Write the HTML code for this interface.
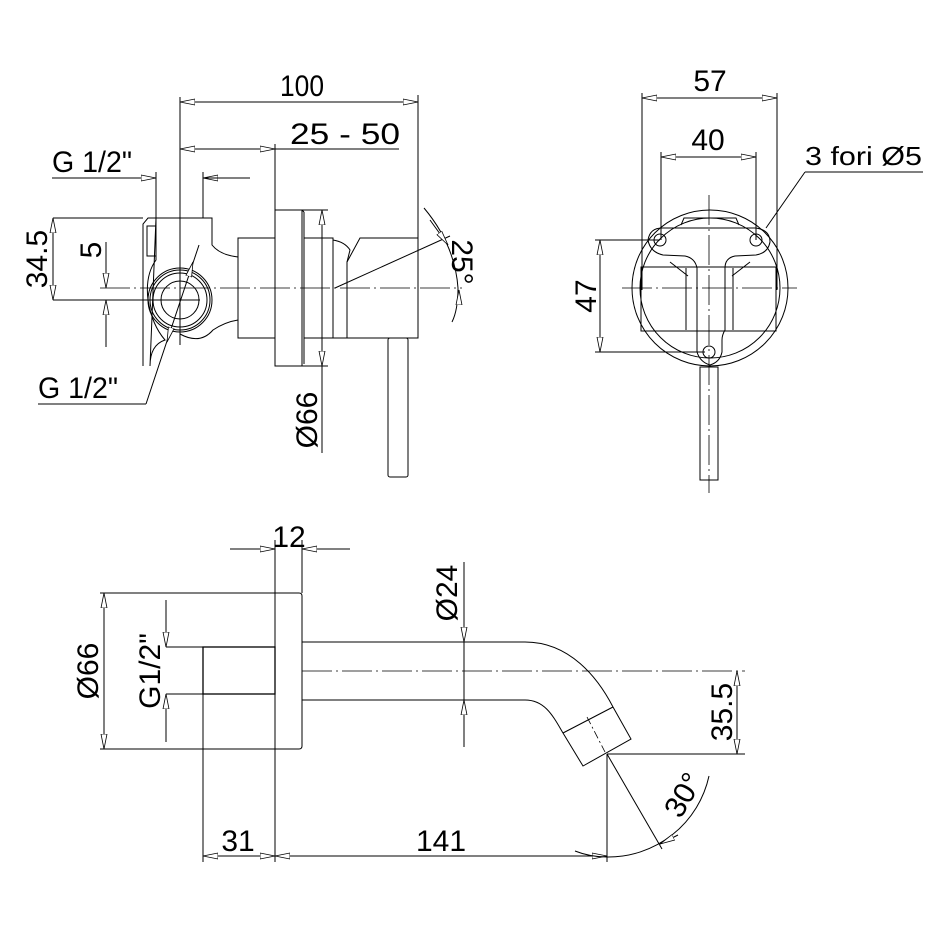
<!DOCTYPE html>
<html><head><meta charset="utf-8"><style>
html,body{margin:0;padding:0;background:#fff}
svg{display:block}
text{font-family:"Liberation Sans Narrow","Liberation Sans",sans-serif;fill:#000}
</style></head><body>
<svg width="942" height="942" viewBox="0 0 942 942" xmlns="http://www.w3.org/2000/svg">
<defs>
<marker id="a" viewBox="0 -4 16 8" refX="15" refY="0" markerWidth="16" markerHeight="8" markerUnits="userSpaceOnUse" orient="auto-start-reverse">
<path d="M15,0 L0,-3 L0,3 Z" fill="#fff" stroke="#000" stroke-width="0.8"/>
</marker>
</defs>
<g fill="none" stroke="#000" stroke-width="1">
<line x1="180" y1="97" x2="180" y2="345"/>
<line x1="418" y1="95" x2="418" y2="270"/>
<line x1="180" y1="102" x2="418" y2="102" marker-start="url(#a)" marker-end="url(#a)"/>
<line x1="275" y1="144" x2="275" y2="210"/>
<line x1="180" y1="149" x2="275" y2="149" marker-start="url(#a)" marker-end="url(#a)"/>
<line x1="275" y1="149" x2="399" y2="149"/>
<line x1="52" y1="178" x2="140" y2="178"/>
<line x1="130" y1="178" x2="156" y2="178" marker-end="url(#a)"/>
<line x1="228" y1="178" x2="203" y2="178" marker-end="url(#a)"/>
<line x1="203" y1="178" x2="250" y2="178"/>
<line x1="156" y1="172" x2="156" y2="218"/>
<line x1="203" y1="172" x2="203" y2="218"/>
<line x1="53" y1="218" x2="143" y2="218"/>
<line x1="53" y1="300" x2="200" y2="300"/>
<line x1="53" y1="218" x2="53" y2="300" marker-start="url(#a)" marker-end="url(#a)"/>
<line x1="106" y1="242" x2="106" y2="288" marker-end="url(#a)"/>
<line x1="106" y1="347" x2="106" y2="300" marker-end="url(#a)"/>
<line x1="100" y1="288" x2="462" y2="288" stroke-dasharray="30,4,2,4" stroke-width="0.8"/>
<path d="M143,366 L143,224 L148,218 L212,218 L212,245 Q220,255 238,257"/>
<path d="M156,218 L156,260 Q145,275 148,300 Q152,325 165,340 Q150,345 150,366 Z"/>
<rect x="147" y="226" width="9" height="30"/>
<path d="M238,320 Q225,322 213,330 Q200,345 180,334"/>
<circle cx="180" cy="300" r="32"/>
<circle cx="180" cy="300" r="30"/>
<circle cx="180" cy="300" r="27"/>
<circle cx="180" cy="300" r="19"/>
<rect x="238" y="238" width="37" height="100"/>
<rect x="275" y="210" width="27" height="156"/>
<line x1="302" y1="210" x2="304" y2="212"/><line x1="304" y1="212" x2="304" y2="364"/>
<rect x="304" y="238" width="29" height="100"/>
<path d="M333,240 Q345,242 350,250 L347,262 L347,338 L333,338"/>
<path d="M347,262 L360,238 L418,238 L418,338 L347,338"/>
<rect x="388" y="338" width="20" height="139" rx="2"/>
<line x1="302" y1="210" x2="328" y2="210"/>
<line x1="302" y1="366" x2="328" y2="366"/>
<line x1="322" y1="288" x2="322" y2="210" marker-end="url(#a)"/>
<line x1="322" y1="288" x2="322" y2="366" marker-end="url(#a)"/>
<line x1="322" y1="366" x2="322" y2="453"/>
<line x1="335" y1="288" x2="450" y2="236"/>
<path d="M424,208 Q455,245 458,288 Q458,310 452,322"/>
<line x1="430" y1="220" x2="448" y2="245" marker-end="url(#a)"/>
<line x1="459" y1="305" x2="459" y2="290" marker-end="url(#a)"/>
<line x1="38" y1="404" x2="146" y2="404"/>
<line x1="146" y1="404" x2="199" y2="245"/>
<line x1="193" y1="262" x2="190" y2="272" marker-start="url(#a)"/>
<line x1="170" y1="332" x2="167" y2="342" marker-end="url(#a)"/>

<line x1="642" y1="93" x2="642" y2="290"/>
<line x1="777" y1="93" x2="777" y2="290"/>
<line x1="642" y1="98" x2="777" y2="98" marker-start="url(#a)" marker-end="url(#a)"/>
<line x1="661" y1="152" x2="661" y2="240"/>
<line x1="756" y1="152" x2="756" y2="240"/>
<line x1="661" y1="157" x2="756" y2="157" marker-start="url(#a)" marker-end="url(#a)"/>
<line x1="805" y1="172" x2="923" y2="172"/>
<line x1="805" y1="172" x2="766" y2="228"/>
<circle cx="710" cy="288" r="78"/>
<circle cx="710" cy="288" r="70"/>
<rect x="641" y="267" width="135" height="64"/>
<path d="M681,225 L684,218 L736,218 L739,225"/>
<path d="M648,240 Q650,228 662,228 L756,228 Q770,230 770,242 Q768,253 756,255 L735,256 Q725,258 725,268 L725,330 Q722,335 722,340 L722,352 Q720,362 710,365 Q700,362 697,352 L697,268 Q695,258 685,256 L663,255 Q650,252 648,240 Z"/>
<path d="M686,268 L686,330 M733,268 L733,330"/>
<path d="M670,262 L688,276 M750,262 L732,276"/>
<circle cx="660" cy="240" r="6"/>
<circle cx="756" cy="240" r="6"/>
<circle cx="709" cy="352" r="6"/>
<rect x="700" y="367" width="18" height="113"/>
<line x1="709" y1="195" x2="709" y2="493" stroke-dasharray="30,4,2,4" stroke-width="0.8"/>
<line x1="622" y1="288" x2="797" y2="288" stroke-dasharray="30,4,2,4" stroke-width="0.8"/>
<line x1="595" y1="240" x2="660" y2="240"/>
<line x1="595" y1="352" x2="705" y2="352"/>
<line x1="600" y1="240" x2="600" y2="352" marker-start="url(#a)" marker-end="url(#a)"/>

<line x1="275" y1="540" x2="275" y2="862"/>
<line x1="302" y1="540" x2="302" y2="593"/>
<line x1="230" y1="549" x2="275" y2="549" marker-end="url(#a)"/>
<line x1="350" y1="549" x2="302" y2="549" marker-end="url(#a)"/>
<path d="M275,593 L299,593 Q302,593 302,596 L302,746 Q302,749 299,749 L275,749 Z"/>
<line x1="100" y1="593" x2="275" y2="593"/>
<line x1="100" y1="749" x2="275" y2="749"/>
<line x1="104" y1="593" x2="104" y2="749" marker-start="url(#a)" marker-end="url(#a)"/>
<line x1="166" y1="600" x2="166" y2="647" marker-end="url(#a)"/>
<line x1="166" y1="742" x2="166" y2="694" marker-end="url(#a)"/>
<line x1="166" y1="647" x2="203" y2="647"/>
<line x1="166" y1="694" x2="203" y2="694"/>
<rect x="203" y="647" width="72" height="47" stroke-width="1.3"/>
<line x1="203" y1="694" x2="203" y2="862"/>
<path d="M302,642 L525,642 C570,642 598,678 613,707 L631,739 L583,766 L563,733 C553,716 545,700 525,700 L302,700"/>
<line x1="563" y1="733" x2="613" y2="707"/>
<line x1="587" y1="717" x2="605" y2="752" stroke-dasharray="8,3,2,3" stroke-width="0.8"/>
<line x1="302" y1="671" x2="745" y2="671" stroke-dasharray="30,4,2,4" stroke-width="0.8"/>
<line x1="464" y1="562" x2="464" y2="642" marker-end="url(#a)"/>
<line x1="464" y1="747" x2="464" y2="700" marker-end="url(#a)"/>
<line x1="464" y1="642" x2="464" y2="700"/>
<line x1="607" y1="754" x2="745" y2="754"/>
<line x1="737" y1="671" x2="737" y2="754" marker-start="url(#a)" marker-end="url(#a)"/>
<line x1="203" y1="856" x2="275" y2="856" marker-start="url(#a)" marker-end="url(#a)"/>
<line x1="275" y1="856" x2="607" y2="856" marker-start="url(#a)" marker-end="url(#a)"/>
<line x1="607" y1="754" x2="607" y2="862"/>
<line x1="607" y1="754" x2="662" y2="849"/>
<path d="M575,851 Q590,857 607,857 A103,103 0 0 0 709,776"/>
<line x1="678" y1="835" x2="660" y2="844" marker-end="url(#a)"/>
</g>
<g font-size="30">
<text x="280" y="96" textLength="44" lengthAdjust="spacingAndGlyphs">100</text>
<text x="290" y="144" textLength="110" lengthAdjust="spacingAndGlyphs">25 - 50</text>
<text x="52" y="172" textLength="80" lengthAdjust="spacingAndGlyphs">G 1/2"</text>
<text x="38" y="398" textLength="80" lengthAdjust="spacingAndGlyphs">G 1/2"</text>
<text transform="translate(47,259) rotate(-90)" text-anchor="middle">34.5</text>
<text transform="translate(101,250) rotate(-90)" text-anchor="middle">5</text>
<text transform="translate(317,420) rotate(-90)" text-anchor="middle">Ø66</text>
<text transform="translate(452,262) rotate(90)" text-anchor="middle">25°</text>
<text x="710" y="91" text-anchor="middle">57</text>
<text x="708" y="150" text-anchor="middle">40</text>
<text x="805" y="165" font-size="26" textLength="117" lengthAdjust="spacingAndGlyphs">3 fori Ø5</text>
<text transform="translate(596,296) rotate(-90)" text-anchor="middle">47</text>
<text x="289" y="547" text-anchor="middle">12</text>
<text transform="translate(98,671) rotate(-90)" text-anchor="middle">Ø66</text>
<text transform="translate(160,671) rotate(-90)" text-anchor="middle">G1/2"</text>
<text transform="translate(457,593) rotate(-90)" text-anchor="middle">Ø24</text>
<text transform="translate(732,712) rotate(-90)" text-anchor="middle">35.5</text>
<text x="238" y="851" text-anchor="middle">31</text>
<text x="441" y="851" text-anchor="middle">141</text>
<text transform="translate(692,800) rotate(-60)" text-anchor="middle">30°</text>
</g>
</svg>
</body></html>
